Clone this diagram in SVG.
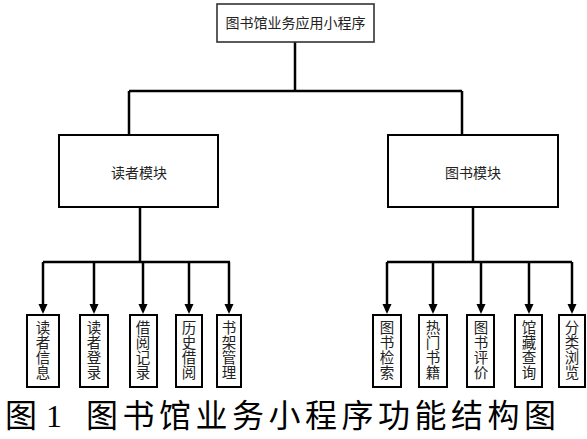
<svg xmlns="http://www.w3.org/2000/svg" width="587" height="439" viewBox="0 0 587 439">
<style>
.box{fill:#fff;stroke:#000;stroke-width:2}
.top{fill:#fff;stroke:#333;stroke-width:1.6}
.ln{fill:none;stroke:#000;stroke-width:2.5}
.t{font-family:"Liberation Sans","Noto Sans CJK SC",sans-serif;font-size:14px;fill:#222;text-anchor:middle}
.v{font-family:"Liberation Sans","Noto Sans CJK SC",sans-serif;font-size:14.5px;fill:#222;text-anchor:middle}
.cap{font-family:"Liberation Serif","Noto Sans CJK SC",serif;font-size:32px;fill:#000}
</style>
<defs>
<marker id="arr" markerUnits="userSpaceOnUse" markerWidth="10" markerHeight="11" refX="5" refY="10" orient="auto-start-reverse" viewBox="0 0 10 11">
<path d="M0,0 L10,0 L5,10 Z" fill="#000" transform="rotate(0)"/>
</marker>
</defs>
<rect width="587" height="439" fill="#fff"/>
<g id="connectors">
<path class="ln" d="M295,42 V91 M129,91 H462 M129,91 V135 M462,91 V135"/>
<path class="ln" d="M140,207 V262 M43,262 H230"/>
<path class="ln" d="M473,207 V262 M387,262 H572"/>
<g fill="#000">
<path class="ln" d="M43,262 V305"/><path d="M38.5,304 H47.5 L43,314 Z"/>
<path class="ln" d="M94,262 V305"/><path d="M89.5,304 H98.5 L94,314 Z"/>
<path class="ln" d="M143,262 V305"/><path d="M138.5,304 H147.5 L143,314 Z"/>
<path class="ln" d="M189,262 V305"/><path d="M184.5,304 H193.5 L189,314 Z"/>
<path class="ln" d="M229,262 V305"/><path d="M224.5,304 H233.5 L229,314 Z"/>
<path class="ln" d="M387,262 V305"/><path d="M382.5,304 H391.5 L387,314 Z"/>
<path class="ln" d="M433,262 V305"/><path d="M428.5,304 H437.5 L433,314 Z"/>
<path class="ln" d="M481,262 V305"/><path d="M476.5,304 H485.5 L481,314 Z"/>
<path class="ln" d="M529,262 V305"/><path d="M524.5,304 H533.5 L529,314 Z"/>
<path class="ln" d="M572,262 V305"/><path d="M567.5,304 H576.5 L572,314 Z"/>
</g>
</g>
<g id="root"><rect class="top" x="217" y="4" width="157" height="38"/><text class="t" x="295.5" y="28">图书馆业务应用小程序</text></g>
<g id="reader"><rect class="box" x="59" y="135" width="159" height="72"/><text class="t" x="139" y="178">读者模块</text></g>
<g id="book"><rect class="box" x="388" y="135" width="170" height="72"/><text class="t" x="473" y="178">图书模块</text></g>
<g id="n1"><rect class="box" x="27" y="315" width="32" height="72"/><text class="v" x="43" y="333"><tspan x="43">读</tspan><tspan x="43" dy="15">者</tspan><tspan x="43" dy="15">信</tspan><tspan x="43" dy="15">息</tspan></text></g>
<g id="n2"><rect class="box" x="80" y="315" width="28" height="72"/><text class="v" x="94" y="333"><tspan x="94">读</tspan><tspan x="94" dy="15">者</tspan><tspan x="94" dy="15">登</tspan><tspan x="94" dy="15">录</tspan></text></g>
<g id="n3"><rect class="box" x="130" y="315" width="27" height="72"/><text class="v" x="143" y="333"><tspan x="143">借</tspan><tspan x="143" dy="15">阅</tspan><tspan x="143" dy="15">记</tspan><tspan x="143" dy="15">录</tspan></text></g>
<g id="n4"><rect class="box" x="176" y="315" width="26" height="72"/><text class="v" x="189" y="333"><tspan x="189">历</tspan><tspan x="189" dy="15">史</tspan><tspan x="189" dy="15">借</tspan><tspan x="189" dy="15">阅</tspan></text></g>
<g id="n5"><rect class="box" x="217" y="315" width="24" height="72"/><text class="v" x="229" y="333"><tspan x="229">书</tspan><tspan x="229" dy="15">架</tspan><tspan x="229" dy="15">管</tspan><tspan x="229" dy="15">理</tspan></text></g>
<g id="n6"><rect class="box" x="373" y="315" width="28" height="72"/><text class="v" x="387" y="333"><tspan x="387">图</tspan><tspan x="387" dy="15">书</tspan><tspan x="387" dy="15">检</tspan><tspan x="387" dy="15">索</tspan></text></g>
<g id="n7"><rect class="box" x="419" y="315" width="28" height="72"/><text class="v" x="433" y="333"><tspan x="433">热</tspan><tspan x="433" dy="15">门</tspan><tspan x="433" dy="15">书</tspan><tspan x="433" dy="15">籍</tspan></text></g>
<g id="n8"><rect class="box" x="467" y="315" width="27" height="72"/><text class="v" x="481" y="333"><tspan x="481">图</tspan><tspan x="481" dy="15">书</tspan><tspan x="481" dy="15">评</tspan><tspan x="481" dy="15">价</tspan></text></g>
<g id="n9"><rect class="box" x="515" y="315" width="27" height="72"/><text class="v" x="529" y="333"><tspan x="529">馆</tspan><tspan x="529" dy="15">藏</tspan><tspan x="529" dy="15">查</tspan><tspan x="529" dy="15">询</tspan></text></g>
<g id="n10"><rect class="box" x="559" y="315" width="26" height="72"/><text class="v" x="572" y="333"><tspan x="572">分</tspan><tspan x="572" dy="15">类</tspan><tspan x="572" dy="15">浏</tspan><tspan x="572" dy="15">览</tspan></text></g>
<text class="cap" y="427"><tspan x="5">图</tspan><tspan x="46">1</tspan><tspan x="86" textLength="470" lengthAdjust="spacing">图书馆业务小程序功能结构图</tspan></text>
</svg>
